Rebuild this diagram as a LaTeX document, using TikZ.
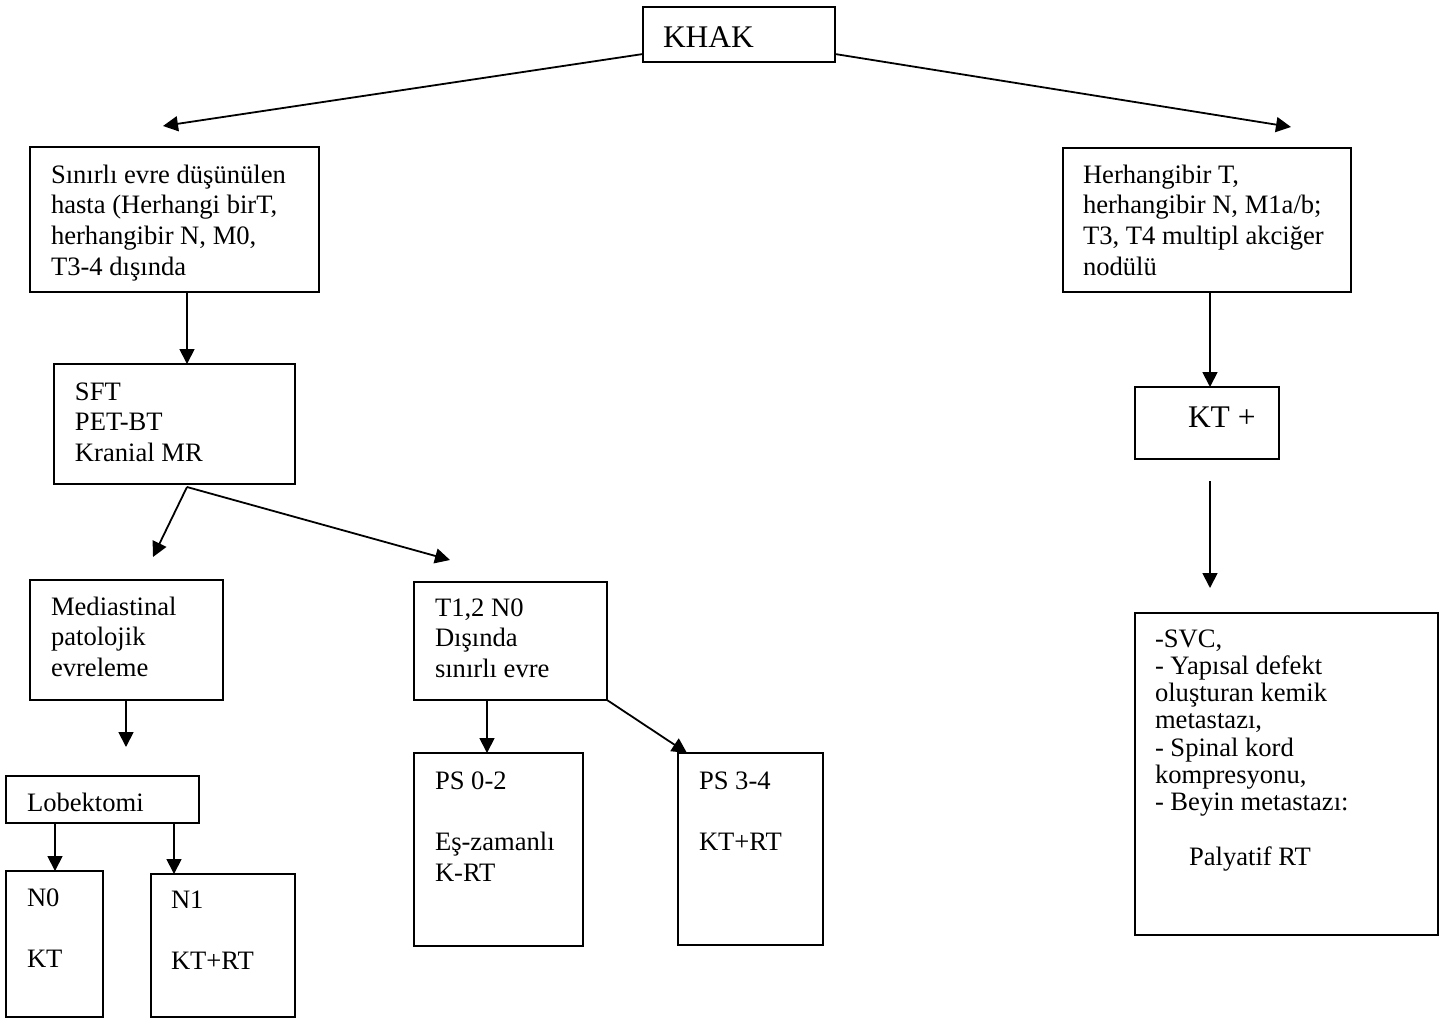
\documentclass[tikz,border=0pt]{standalone}
\usepackage{fontspec}
\setmainfont{Liberation Serif}
\usetikzlibrary{arrows.meta}
\newcommand{\bt}[5]{\parbox[t][\dimexpr #2pt/2\relax][t]{\dimexpr #1pt/2\relax}{\leftskip=\dimexpr #3pt/2\relax\relax\rule{0pt}{\dimexpr #4pt/2\relax}#5}}
\tikzset{
  bx/.style={draw, line width=1.1pt, inner sep=0pt, outer sep=0pt, anchor=north west, rectangle,
    font=\fontsize{13.3pt}{15.35pt}\selectfont},
  bigtxt/.style={font=\fontsize{15.75pt}{18pt}\selectfont},
  tighttxt/.style={font=\fontsize{13.3pt}{13.65pt}\selectfont},
  arr/.style={draw, line width=0.9pt, -{Triangle[length=7.5pt,width=7.5pt]}}
}
\begin{document}
\begin{tikzpicture}[x=0.5pt,y=-0.5pt]
\useasboundingbox (0,0) rectangle (1448,1019);
% boxes
\node[bx,bigtxt] (khak) at (643,7) {\bt{192}{55}{20}{40}{KHAK}};
\node[bx] (sin) at (30,147) {\bt{289}{145}{21}{36}{Sınırlı evre düşünülen\\hasta (Herhangi birT,\\herhangibir N, M0,\\T3-4 dışında}};
\node[bx] (her) at (1063,148) {\bt{288}{144}{20}{35}{Herhangibir T,\\herhangibir N, M1a/b;\\T3, T4 multipl akciğer\\nodülü}};
\node[bx] (sft) at (54,364) {\bt{241}{120}{21}{36}{SFT\\PET-BT\\Kranial MR}};
\node[bx] (med) at (30,580) {\bt{193}{120}{21}{35}{Mediastinal\\patolojik\\evreleme}};
\node[bx] (t12) at (414,582) {\bt{193}{118}{21}{34}{T1,2 N0\\Dışında\\sınırlı evre}};
\node[bx] (ps02) at (414,753) {\bt{169}{193}{21}{36}{PS 0-2\\[15.35pt]Eş-zamanlı\\K-RT}};
\node[bx] (ps34) at (678,753) {\bt{145}{192}{21}{36}{PS 3-4\\[15.35pt]KT+RT}};
\node[bx] (lob) at (6,776) {\bt{193}{47}{21}{35}{Lobektomi}};
\node[bx] (n0) at (6,871) {\bt{97}{146}{21}{35}{N0\\[15.35pt]KT}};
\node[bx] (n1) at (151,874) {\bt{144}{143}{20}{34}{N1\\[15.35pt]KT+RT}};
\node[bx,bigtxt] (ktp) at (1135,387) {\bt{144}{72}{53}{40}{KT +}};
\node[bx,tighttxt] (pal) at (1135,613) {\bt{303}{322}{20}{34}{-SVC,\\- Yapısal defekt\\oluşturan kemik\\metastazı,\\- Spinal kord\\kompresyonu,\\- Beyin metastazı:\\[13.65pt]\hspace*{17pt}Palyatif RT}};
% free arrow ends
\coordinate (t1) at (163,126);
\coordinate (t2) at (1291,127);
\coordinate (t4) at (153,557);
\coordinate (t5) at (450,560);
\coordinate (t6) at (126,747);
\coordinate (s12) at (1210,481);
\coordinate (t12b) at (1210,588);
% connectors
\draw[arr] ([yshift=4pt]khak.south west) -- (t1);
\draw[arr] ([yshift=4pt]khak.south east) -- (t2);
\draw[arr] ([xshift=78.5pt]sin.south west) -- ([xshift=66.5pt]sft.north west);
\draw[arr] ([xshift=66.5pt,yshift=-1.5pt]sft.south west) -- (t4);
\draw[arr] ([xshift=66.5pt,yshift=-1.5pt]sft.south west) -- (t5);
\draw[arr] ([xshift=48pt]med.south west) -- (t6);
\draw[arr] ([xshift=24.5pt]lob.south west) -- ([xshift=24.5pt]n0.north west);
\draw[arr] ([xshift=84pt]lob.south west) -- ([xshift=11.5pt]n1.north west);
\draw[arr] ([xshift=36.5pt]t12.south west) -- ([xshift=36.5pt]ps02.north west);
\draw[arr] (t12.south east) -- ([xshift=4.5pt]ps34.north west);
\draw[arr] ([xshift=73.5pt]her.south west) -- ([xshift=37.5pt]ktp.north west);
\draw[arr] (s12) -- (t12b);
\end{tikzpicture}
\end{document}
